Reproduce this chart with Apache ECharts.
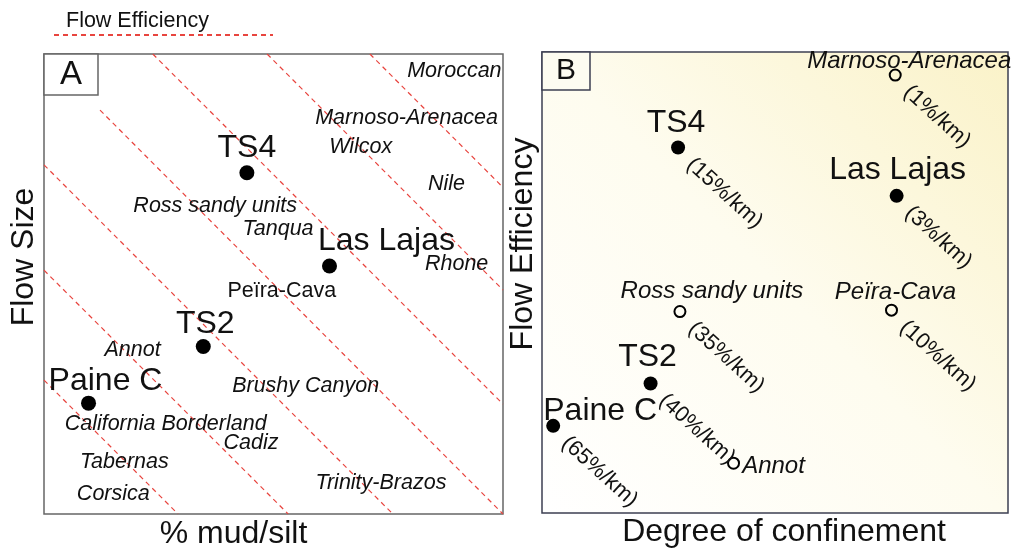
<!DOCTYPE html>
<html><head><meta charset="utf-8">
<script src="https://cdn.jsdelivr.net/npm/echarts@6/dist/echarts.min.js"></script>
<style>html,body{margin:0;padding:0;background:#fff}#c{width:1014px;height:548px}</style>
</head><body><div id="c"></div>
<script>
const FONT = "'Liberation Sans', Arial, Helvetica, sans-serif";

// ---------- Panel A : Flow Size vs % mud/silt ----------
// dashed lines of equal flow efficiency (start / end, in axis units 0-10)
const effLineStarts = [[7.1, 10], [4.86, 10], [2.37, 10], [1.22, 8.78], [0, 7.59], [0, 5.3], [0, 2.91]];
const effLineEnds   = [[10, 7.1], [10, 4.87], [10, 2.39], [10, 0], [7.6, 0], [5.32, 0], [2.92, 0]];

const aDotNames = ['TS4', 'Las Lajas', 'TS2', 'Paine C'];
const aDotMud   = [4.42, 6.22, 3.47, 0.97];
const aDotSize  = [7.42, 5.39, 3.64, 2.41];

const aSystems = ['Moroccan', 'Marnoso-Arenacea', 'Wilcox', 'Nile', 'Ross sandy units', 'Tanqua', 'Rhone',
                  'Peïra-Cava', 'Annot', 'Brushy Canyon', 'California Borderland', 'Cadiz', 'Tabernas',
                  'Corsica', 'Trinity-Brazos'];
const aSysMud  = [8.94, 7.90, 6.90, 8.77, 3.73, 5.10, 8.99, 5.18, 1.93, 5.70, 2.65, 4.51, 1.75, 1.51, 7.34];
const aSysSize = [9.63, 8.61, 7.97, 7.17, 6.70, 6.19, 5.43, 4.85, 3.56, 2.79, 1.95, 1.55, 1.12, 0.43, 0.67];
const aSysUpright = ['Peïra-Cava'];

// ---------- Panel B : Flow Efficiency vs Degree of confinement ----------
const bNames      = ['Marnoso-Arenacea', 'TS4', 'Las Lajas', 'Ross sandy units', 'Peïra-Cava', 'TS2', 'Paine C', 'Annot'];
const bConfine    = [7.58, 2.92, 7.61, 2.96, 7.50, 2.33, 0.24, 4.11];
const bEfficiency = [9.50, 7.93, 6.88, 4.37, 4.40, 2.81, 1.89, 1.08];
const bRates      = ['(1%/km)', '(15%/km)', '(3%/km)', '(35%/km)', '(10%/km)', '(40%/km)', '(65%/km)', ''];
const bThisStudy  = [false, true, true, false, false, true, true, false];

// label placement styles (pixel offsets)
const aDotLabelOffset = {'TS4': [0, -25], 'Las Lajas': [57, -25], 'TS2': [2, -22], 'Paine C': [17, -22]};
const bNameOffset = {'Marnoso-Arenacea': [14, -14], 'TS4': [-2, -24], 'Las Lajas': [1, -26], 'Ross sandy units': [32, -20],
                     'Peïra-Cava': [4, -18], 'TS2': [-3, -26], 'Paine C': [47, -15], 'Annot': [40, 3]};

const RED = '#e8453f';
const chart = echarts.init(document.getElementById('c'), null, {renderer: 'canvas'});

const hiddenAxis = (gridIndex, name, gap, pad) => ({
  type: 'value', gridIndex, min: 0, max: 10, name, nameLocation: 'middle', nameGap: gap,
  nameTextStyle: {fontSize: 32, color: '#111', fontFamily: FONT, padding: pad},
  axisLine: {show: false}, axisTick: {show: false}, axisLabel: {show: false}, splitLine: {show: false}
});

const series = [];
effLineStarts.forEach((s, i) => {
  series.push({
    type: 'line', name: 'Flow Efficiency', xAxisIndex: 0, yAxisIndex: 0,
    data: [s, effLineEnds[i]], symbol: 'none', silent: true,
    itemStyle: {color: RED},
    lineStyle: {color: RED, width: 1.2, type: [5, 4]}, z: 1
  });
});

series.push({
  type: 'scatter', name: 'A dots', xAxisIndex: 0, yAxisIndex: 0, symbolSize: 15, z: 3,
  itemStyle: {color: '#000', opacity: 1},
  data: aDotNames.map((n, i) => ({name: n, value: [aDotMud[i], aDotSize[i]], label: {offset: aDotLabelOffset[n]}})),
  label: {show: true, position: 'inside', formatter: '{b}', fontSize: 32, color: '#111', fontFamily: FONT,
          align: 'center', verticalAlign: 'middle', textBorderWidth: 0}
});

series.push({
  type: 'scatter', name: 'A systems', xAxisIndex: 0, yAxisIndex: 0, symbolSize: 1, z: 2,
  itemStyle: {color: 'rgba(0,0,0,0)', opacity: 1},
  data: aSystems.map((n, i) => ({name: n, value: [aSysMud[i], aSysSize[i]],
        label: {fontStyle: aSysUpright.includes(n) ? 'normal' : 'italic'}})),
  label: {show: true, position: 'inside', formatter: '{b}', fontSize: 21.5, color: '#111', fontFamily: FONT,
          align: 'center', verticalAlign: 'middle', textBorderWidth: 0}
});

series.push({
  type: 'scatter', name: 'B points', xAxisIndex: 1, yAxisIndex: 1, z: 3,
  data: bNames.map((n, i) => ({
    name: n, value: [bConfine[i], bEfficiency[i]],
    symbolSize: bThisStudy[i] ? 14 : 11,
    itemStyle: bThisStudy[i] ? {color: '#000', borderWidth: 0, opacity: 1}
                             : {color: 'rgba(0,0,0,0)', borderColor: '#000', borderWidth: 2, opacity: 1}
  })),
  label: {show: true, position: 'inside', formatter: p => bRates[p.dataIndex], rotate: -42, offset: [18, 3],
          align: 'left', verticalAlign: 'middle', fontSize: 22, color: '#111', fontFamily: FONT, textBorderWidth: 0}
});

series.push({
  type: 'scatter', name: 'B names', xAxisIndex: 1, yAxisIndex: 1, symbolSize: 1, z: 4,
  itemStyle: {color: 'rgba(0,0,0,0)', opacity: 1},
  data: bNames.map((n, i) => ({
    name: n, value: [bConfine[i], bEfficiency[i]],
    label: {offset: bNameOffset[n], fontSize: bThisStudy[i] ? 32 : 24, fontStyle: bThisStudy[i] ? 'normal' : 'italic'}
  })),
  label: {show: true, position: 'inside', formatter: '{b}', color: '#111', fontFamily: FONT,
          align: 'center', verticalAlign: 'middle', textBorderWidth: 0}
});

chart.setOption({
  animation: false,
  backgroundColor: '#fff',
  title: [
    {text: 'Flow Efficiency', left: 66, top: 10, padding: 0,
     textStyle: {fontSize: 21.5, fontWeight: 'normal', color: '#111', fontFamily: FONT}},
    {text: 'A', left: 44, top: 54, padding: [4, 16, 4, 16], borderWidth: 1.5, borderColor: '#666', backgroundColor: '#fff',
     textStyle: {fontSize: 33, fontWeight: 'normal', color: '#111', fontFamily: FONT}, z: 10},
    {text: 'B', left: 542, top: 52, padding: [4, 14, 4, 14], borderWidth: 1.5, borderColor: '#3c3f52', backgroundColor: '#fdfcf1',
     textStyle: {fontSize: 30, fontWeight: 'normal', color: '#111', fontFamily: FONT}, z: 10}
  ],
  legend: {data: ['Flow Efficiency'], left: 53, top: 28, padding: 0, itemWidth: 219, itemHeight: 14,
           formatter: () => '', textStyle: {fontSize: 1}, selectedMode: false, itemStyle: {opacity: 0}},
  grid: [
    {left: 44, top: 54, width: 459, height: 460, show: true, borderColor: '#666', borderWidth: 1.5,
     backgroundColor: '#fff', outerBoundsMode: 'none', containLabel: false},
    {left: 542, top: 52, width: 466, height: 461, show: true, borderColor: '#3c3f52', borderWidth: 1.5,
     outerBoundsMode: 'none', containLabel: false,
     backgroundColor: {type: 'linear', x: 0, y: 1, x2: 1, y2: 0,
       colorStops: [{offset: 0, color: '#ffffff'}, {offset: 0.5, color: '#fefcef'}, {offset: 1, color: '#faf2c8'}]}}
  ],
  xAxis: [hiddenAxis(0, '% mud/silt', 4, [0, 80, 0, 0]), hiddenAxis(1, 'Degree of confinement', 3, [0, 0, 0, 18])],
  yAxis: [hiddenAxis(0, 'Flow Size', 4, [0, 0, 0, 54]), hiddenAxis(1, 'Flow Efficiency', 2.5, [0, 0, 0, 77])],
  series
});
</script></body></html>
